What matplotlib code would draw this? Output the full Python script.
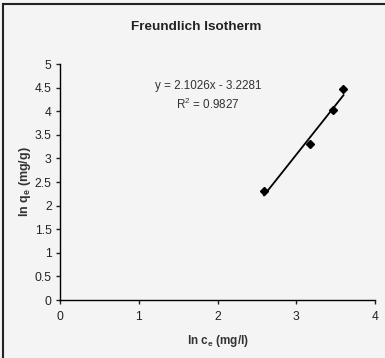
import numpy as np
import matplotlib
matplotlib.use("Agg")
import matplotlib.pyplot as plt
from matplotlib.lines import Line2D

plt.rcParams['font.family'] = ['Liberation Sans', 'DejaVu Sans']
plt.rcParams['mathtext.fontset'] = 'custom'
plt.rcParams['mathtext.rm'] = 'Liberation Sans'
plt.rcParams['mathtext.bf'] = 'Liberation Sans:bold'

# data
ln_ce = [2.59, 3.18, 3.47, 3.60]
ln_qe = [2.30, 3.31, 4.03, 4.47]
slope, intercept = 2.1026, -3.2281
x_ticks = [0, 1, 2, 3, 4]
y_ticks = [0, 0.5, 1, 1.5, 2, 2.5, 3, 3.5, 4, 4.5, 5]

bg = '#f4f4f4'
fig = plt.figure(figsize=(3.85, 3.58), dpi=100, facecolor=bg)
ax = fig.add_axes([0.156, 0.162, 0.818, 0.659], facecolor=bg)

# trendline
xl = np.array([min(ln_ce), max(ln_ce)])
ax.plot(xl, slope * xl + intercept, color='black', lw=1.3)
ax.plot(ln_ce, ln_qe, 'D', color='black', ms=3.6, mec='black')

ax.set_xlim(0, 4)
ax.set_ylim(0, 5)
ax.set_xticks(x_ticks)
ax.set_yticks(y_ticks)
ax.set_yticklabels([f'{v:g}' for v in y_ticks])
for s in ['top', 'right']:
    ax.spines[s].set_visible(False)
for s in ['left', 'bottom']:
    ax.spines[s].set_linewidth(1.0)
ax.tick_params(direction='out', length=3, width=1, labelsize=8.7, colors='#222222', pad=5)
ax.tick_params(axis='y', pad=3)

ax.set_xlabel(r'ln c$_\mathbf{e}$ (mg/l)', fontsize=8.5, fontweight='bold', color='#333333', labelpad=7)
ax.set_ylabel(r'ln q$_\mathbf{e}$ (mg/g)', fontsize=9, fontweight='bold', color='#333333', labelpad=1)

ax.text(1.88, 4.53, 'y = 2.1026x - 3.2281', fontsize=8.4, ha='center', va='center', color='#333333')
ax.text(1.88, 4.14, r'R$^2$ = 0.9827', fontsize=8.4, ha='center', va='center', color='#333333')

fig.text(0.51, 0.925, 'Freundlich Isotherm', fontsize=9.7, fontweight='bold', ha='center', va='center', color='#222222')

# chart border (top and left visible)
fig.add_artist(Line2D([0.008, 0.008], [0, 0.99], transform=fig.transFigure, color='#222222', lw=1.5))
fig.add_artist(Line2D([0.008, 1], [0.99, 0.99], transform=fig.transFigure, color='#222222', lw=1.5))

fig.savefig('out.png', dpi=100, facecolor=bg)
